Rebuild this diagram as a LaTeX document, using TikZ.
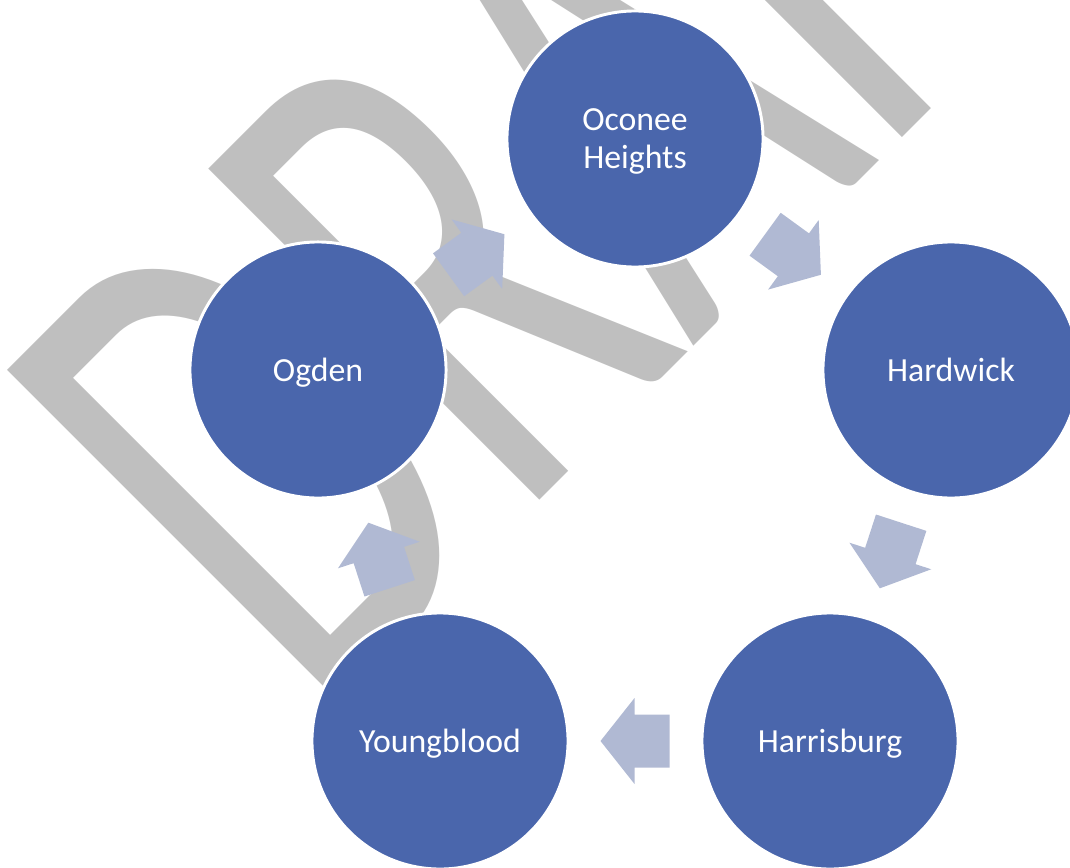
\documentclass[tikz,border=0pt]{standalone}
\usepackage{fontspec}
\setmainfont{Carlito}
\usetikzlibrary{calc}
\definecolor{townblue}{RGB}{74,102,172}
\definecolor{flowblue}{RGB}{176,185,211}
\definecolor{draftgray}{RGB}{191,191,191}
\tikzset{
  town/.style={circle,fill=townblue,draw=white,line width=2.1pt,
    minimum size=6.4cm,inner sep=0pt,text=white,align=center,
    text depth=0pt,font=\fontsize{24}{27}\selectfont},
  pics/flow/.style={code={
    \fill[flowblue] (-34.5,-26.5) -- (0.5,-26.5) -- (0.5,-43) -- (34.5,0)
      -- (0.5,43) -- (0.5,26.5) -- (-34.5,26.5) -- cycle;}}
}
\begin{document}
\begin{tikzpicture}[x=0.025cm,y=0.025cm]
\clip (0,0) rectangle (1070,-867);
% watermark
\node[draftgray,rotate=45,xscale=0.63,anchor=base west,inner sep=0pt,
  font=\fontsize{519}{519}\selectfont] (draft) at (316,-724) {DRAFT};
% towns
\node[town] (oconee) at (635,-139) {Oconee\\Heights};
\node[town] (hardwick) at (951,-370) {Hardwick};
\node[town] (harrisburg) at (830,-741) {Harrisburg};
\node[town] (youngblood) at (440,-741) {Youngblood};
\node[town] (ogden) at (318,-370) {Ogden};
% arrows
\pic[rotate=-36] at ($(oconee)!0.5!(hardwick)$) {flow};
\pic[rotate=-108] at ($(hardwick)!0.5!(harrisburg)$) {flow};
\pic[rotate=180] at ($(harrisburg)!0.5!(youngblood)$) {flow};
\pic[rotate=108] at ($(youngblood)!0.5!(ogden)$) {flow};
\pic[rotate=36] at ($(ogden)!0.5!(oconee)$) {flow};
\end{tikzpicture}
\end{document}
